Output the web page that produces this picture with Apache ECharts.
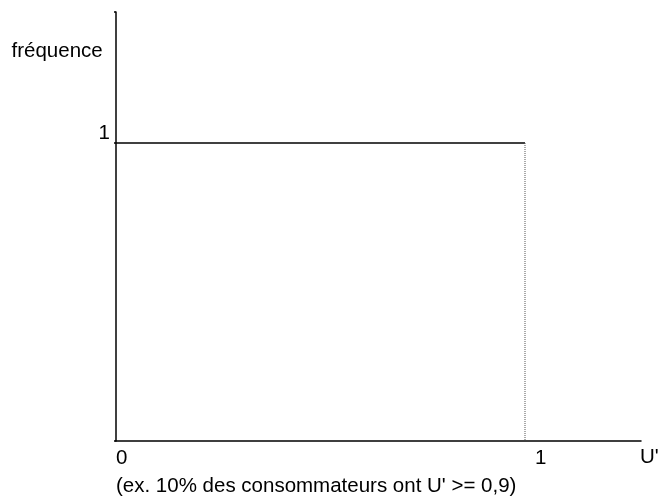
<!DOCTYPE html>
<html>
<head>
<meta charset="utf-8">
<script src="https://cdn.jsdelivr.net/npm/echarts@6/dist/echarts.min.js"></script>
<style>html,body{margin:0;padding:0;background:#fff;}#c{width:661px;height:500px;}</style>
</head>
<body>
<div id="c"></div>
<script>
// Data
const densityX = [0, 1];          // U' range of the uniform density
const densityY = [1, 1];          // frequency value
const boundaryX = [1, 1];         // dotted boundary at U' = 1
const boundaryY = [1, 0];
const xTickValues = [0, 1];
const xTickLabels = ['0', '1'];
const yTickValues = [1];
const yTickLabels = ['1'];
const xAxisName = "U'";
const yAxisName = 'fréquence';
const caption = "(ex. 10% des consommateurs ont U' >= 0,9)";
const xMax = 1.28362;
const yMax = 1.4396;

const FONT = 'Liberation Sans, Arial, sans-serif';
const chart = echarts.init(document.getElementById('c'), null, {renderer: 'canvas'});
chart.setOption({
  animation: false,
  backgroundColor: '#fff',
  grid: {left: 116, right: 20, top: 12, bottom: 59},
  xAxis: {
    type: 'value', min: 0, max: xMax, interval: 1,
    axisLine: {show: true, lineStyle: {color: '#000', width: 1.5}},
    axisTick: {show: false}, axisLabel: {show: false}, splitLine: {show: false}
  },
  yAxis: {
    type: 'value', min: 0, max: yMax, interval: 1,
    axisLine: {show: true, lineStyle: {color: '#000', width: 1.5}},
    axisTick: {show: true, length: 2, lineStyle: {color: '#000', width: 1.5}},
    axisLabel: {show: false}, splitLine: {show: false}
  },
  series: [
    {type: 'line', data: densityX.map((x, i) => [x, densityY[i]]), symbol: 'none',
     lineStyle: {color: '#000', width: 1.5}},
    {type: 'line', data: boundaryX.map((x, i) => [x, boundaryY[i]]), symbol: 'none',
     lineStyle: {color: '#555', width: 1, type: [1, 1]}}
  ]
});

const texts = [];
xTickValues.forEach((v, i) => {
  const p = chart.convertToPixel({gridIndex: 0}, [v, 0]);
  const dx = v === 0 ? 0 : 10;
  texts.push({x: p[0] + dx, y: p[1] + 17, text: xTickLabels[i], align: 'left'});
});
yTickValues.forEach((v, i) => {
  const p = chart.convertToPixel({gridIndex: 0}, [0, v]);
  texts.push({x: p[0] - 6, y: p[1] - 10, text: yTickLabels[i], align: 'right'});
});
const pEnd = chart.convertToPixel({gridIndex: 0}, [xMax, 0]);
texts.push({x: pEnd[0] - 1, y: pEnd[1] + 16.5, text: xAxisName, align: 'left'});
texts.push({x: 11.5, y: 51, text: yAxisName, align: 'left'});
texts.push({x: 116, y: 486, text: caption, align: 'left'});

chart.setOption({
  graphic: texts.map(t => ({
    type: 'text', x: t.x, y: t.y,
    style: {text: t.text, font: '20.5px ' + FONT, fill: '#000', align: t.align, verticalAlign: 'middle'}
  }))
});
</script>
</body>
</html>
